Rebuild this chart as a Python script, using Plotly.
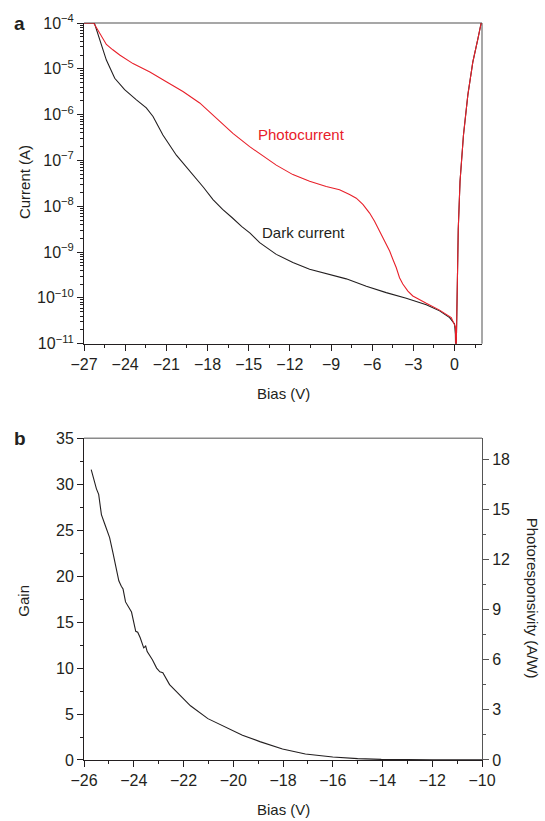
import plotly.graph_objects as go

# ---------------- Panel a data ----------------
dark_bias = [-27, -26.3, -26.22, -25.86, -25.37, -24.76, -24.04, -23.18, -22.46, -21.97,
             -21.25, -20.27, -19.06, -18.3, -17.6, -16.9, -16.2, -15.5, -14.9, -14.2,
             -12.99, -11.78, -10.56, -9.35, -7.89, -6.43, -4.98, -3.52, -2.06, -1.09,
             -0.36, 0.0, 0.06, 0.10, 0.14, 0.20, 0.27, 0.40, 0.65, 0.97,
             1.33, 1.70, 1.94]
dark_current = [1.0e-4, 1.0e-4, 9.5e-5, 4.6e-5, 1.55e-5, 6.2e-6, 3.5e-6, 2.1e-6, 1.4e-6, 9.1e-7,
                3.6e-7, 1.3e-7, 4.9e-8, 2.6e-8, 1.4e-8, 8.5e-9, 5.6e-9, 3.6e-9, 2.6e-9, 1.6e-9,
                8.9e-10, 5.9e-10, 4.2e-10, 3.4e-10, 2.6e-10, 1.8e-10, 1.3e-10, 9.8e-11, 7.1e-11, 5.2e-11,
                3.7e-11, 2.7e-11, 1.6e-11, 3.0e-12, 3.2e-11, 3.2e-10, 3.2e-9, 3.5e-8, 3.6e-7, 2.7e-6,
                1.4e-5, 4.5e-5, 1.0e-4]

photo_bias = [-27, -26.3, -26.1, -25.86, -25.6, -25.37, -24.9, -24.4, -23.43, -22.2,
              -21.0, -19.79, -18.57, -17.36, -16.15, -14.93, -13.72, -12.99, -11.78, -10.56,
              -9.35, -8.38, -7.65, -7.16, -6.68, -6.19, -5.83, -5.46, -5.1, -4.73,
              -4.49, -4.25, -4.01, -3.77, -3.4, -3.04, -2.06, -1.09, -0.24, 0.07,
              0.10, 0.14, 0.20, 0.27, 0.40, 0.65, 0.97, 1.33, 1.70, 1.94]
photo_current = [1.0e-4, 1.0e-4, 8.0e-5, 6.0e-5, 4.3e-5, 3.4e-5, 2.6e-5, 2.0e-5, 1.3e-5, 8.5e-6,
                 5.2e-6, 3.2e-6, 1.8e-6, 8.3e-7, 3.9e-7, 2.0e-7, 1.1e-7, 7.9e-8, 4.9e-8, 3.5e-8,
                 2.7e-8, 2.3e-8, 1.8e-8, 1.5e-8, 1.1e-8, 7.1e-9, 4.7e-9, 2.9e-9, 1.7e-9, 1.05e-9,
                 6.9e-10, 4.6e-10, 2.75e-10, 2.0e-10, 1.4e-10, 1.1e-10, 7.6e-11, 5.4e-11, 3.7e-11, 2.3e-11,
                 3.0e-12, 3.2e-11, 3.2e-10, 3.2e-9, 3.5e-8, 3.6e-7, 2.7e-6, 1.4e-5, 4.5e-5, 1.0e-4]

# ---------------- Panel b data ----------------
gain_bias = [-25.71, -25.6, -25.5, -25.41, -25.3, -25.17, -25.04, -24.97, -24.84, -24.7,
             -24.6, -24.5, -24.43, -24.33, -24.09, -23.92, -23.84, -23.74, -23.6, -23.52,
             -23.46, -23.25, -23.08, -22.95, -22.83, -22.56, -22.0, -21.72, -21.02, -20.32,
             -19.63, -18.93, -18.02, -17.1, -16.0, -15.0, -14.05, -12.0, -10.0]
gain = [31.6, 30.4, 29.5, 28.9, 26.7, 25.7, 24.6, 24.2, 22.6, 20.9,
        19.5, 18.9, 18.6, 17.2, 16.1, 14.0, 13.9, 13.3, 12.2, 12.4,
        11.8, 10.9, 10.0, 9.6, 9.5, 8.2, 6.6, 5.9, 4.5, 3.6,
        2.7, 2.0, 1.2, 0.65, 0.32, 0.15, 0.07, 0.03, 0.02]

# ---------------- Tick labels ----------------
a_x_ticks = [-27, -24, -21, -18, -15, -12, -9, -6, -3, 0]
a_x_text = ["−27", "−24", "−21", "−18", "−15", "−12", "−9", "−6", "−3", "0"]
a_y_exps = [-11, -10, -9, -8, -7, -6, -5, -4]
a_y_text = ["10<sup>−%d</sup>" % (-e) for e in a_y_exps]
b_x_ticks = [-26, -24, -22, -20, -18, -16, -14, -12, -10]
b_x_text = ["−26", "−24", "−22", "−20", "−18", "−16", "−14", "−12", "−10"]
b_y_ticks = [0, 5, 10, 15, 20, 25, 30, 35]
b_y2_ticks = [0, 3, 6, 9, 12, 15, 18]

FONT = "Liberation Sans, Arial, sans-serif"
INK = "#231f20"
RED = "#e8202a"
GRAY = "#8a8a8a"
TICK_SIZE = 16

a_y_major = [10.0 ** e for e in a_y_exps]
a_y_minor = [k * 10.0 ** e for e in a_y_exps[:-1] for k in range(2, 10)]

fig = go.Figure()
fig.add_trace(go.Scatter(x=dark_bias, y=dark_current, mode="lines",
                         line=dict(color=INK, width=1.1), xaxis="x", yaxis="y",
                         showlegend=False))
fig.add_trace(go.Scatter(x=photo_bias, y=photo_current, mode="lines",
                         line=dict(color=RED, width=1.1), xaxis="x", yaxis="y",
                         showlegend=False))
fig.add_trace(go.Scatter(x=gain_bias, y=gain, mode="lines",
                         line=dict(color=INK, width=1.1), xaxis="x2", yaxis="y2",
                         showlegend=False))
fig.add_trace(go.Scatter(x=[None], y=[None], mode="lines", xaxis="x2", yaxis="y3",
                         showlegend=False, hoverinfo="skip"))

A_BOT = 0.5649
B_TOP = 0.4365

common = dict(showgrid=False, zeroline=False, showline=True, linecolor=INK, linewidth=1,
              ticks="outside", tickcolor=INK, tickwidth=1,
              tickfont=dict(family=FONT, size=TICK_SIZE, color=INK))

fig.update_layout(
    width=545, height=821,
    margin=dict(l=84, r=63, t=20, b=61),
    paper_bgcolor="white", plot_bgcolor="white",
    font=dict(family=FONT, size=15, color=INK),
    xaxis=dict(domain=[0, 1], anchor="y", range=[-27, 2], tickvals=a_x_ticks, ticktext=a_x_text,
               ticklen=6, minor=dict(ticks="outside", ticklen=3, dtick=1.5, tick0=-27, tickcolor=INK),
               **common),
    yaxis=dict(domain=[A_BOT, 1], anchor="x", type="log", range=[-11, -4],
               tickvals=a_y_major, ticktext=a_y_text, ticklen=6,
               minor=dict(ticks="outside", ticklen=3, tickvals=a_y_minor, tickcolor=INK),
               **common),
    xaxis2=dict(domain=[0, 1], anchor="y2", range=[-26, -10], tickvals=b_x_ticks, ticktext=b_x_text,
                ticklen=6, minor=dict(ticks="outside", ticklen=3, dtick=1, tick0=-26, tickcolor=INK),
                **common),
    yaxis2=dict(domain=[0, B_TOP], anchor="x2", range=[0, 35], tickvals=b_y_ticks,
                ticklen=6, minor=dict(ticks="outside", ticklen=3, dtick=2.5, tick0=0, tickcolor=INK),
                **common),
    yaxis3=dict(overlaying="y2", anchor="x2", side="right", range=[0, 19.25], tickvals=b_y2_ticks,
                showgrid=False, zeroline=False, showline=True, linecolor="#555555", linewidth=1,
                ticks="outside", tickcolor="#555555", tickwidth=1, ticklen=6,
                minor=dict(ticks="outside", ticklen=3, dtick=1.5, tick0=0, tickcolor="#555555"),
                tickfont=dict(family=FONT, size=TICK_SIZE, color=INK)),
    shapes=[
        dict(type="line", xref="paper", yref="paper", x0=0, x1=1, y0=1, y1=1,
             line=dict(color=GRAY, width=1.5), layer="below"),
        dict(type="line", xref="paper", yref="paper", x0=1, x1=1, y0=A_BOT, y1=1,
             line=dict(color=GRAY, width=1.5), layer="below"),
        dict(type="line", xref="paper", yref="paper", x0=0, x1=1, y0=B_TOP, y1=B_TOP,
             line=dict(color=GRAY, width=1.5), layer="below"),
    ],
)

ann = [
    dict(text="<b>a</b>", x=-0.161, y=1.0, font=dict(family=FONT, size=19, color=INK)),
    dict(text="<b>b</b>", x=-0.161, y=B_TOP, font=dict(family=FONT, size=19, color=INK)),
    dict(text="Current (A)", x=-0.151, y=0.784, textangle=-90, font=dict(family=FONT, size=15, color=INK)),
    dict(text="Bias (V)", x=0.5, y=0.497, font=dict(family=FONT, size=15, color=INK)),
    dict(text="Gain", x=-0.151, y=0.216, textangle=-90, font=dict(family=FONT, size=15, color=INK)),
    dict(text="Photoresponsivity (A/W)", x=1.126, y=0.22, textangle=90, font=dict(family=FONT, size=15, color=INK)),
    dict(text="Bias (V)", x=0.5, y=-0.0676, font=dict(family=FONT, size=15, color=INK)),
]
for a in ann:
    a.update(xref="paper", yref="paper", showarrow=False, xanchor="center", yanchor="middle")
    fig.add_annotation(**a)

fig.add_annotation(text="Photocurrent", x=-11.14, y=-6.43, xref="x", yref="y", showarrow=False,
                   font=dict(family=FONT, size=15, color=RED))
fig.add_annotation(text="Dark current", x=-11.0, y=-8.57, xref="x", yref="y", showarrow=False,
                   font=dict(family=FONT, size=15, color=INK))

fig.write_html("out.html", config={"displayModeBar": False},
               post_script="document.body.style.margin='0';document.body.style.padding='0';")
